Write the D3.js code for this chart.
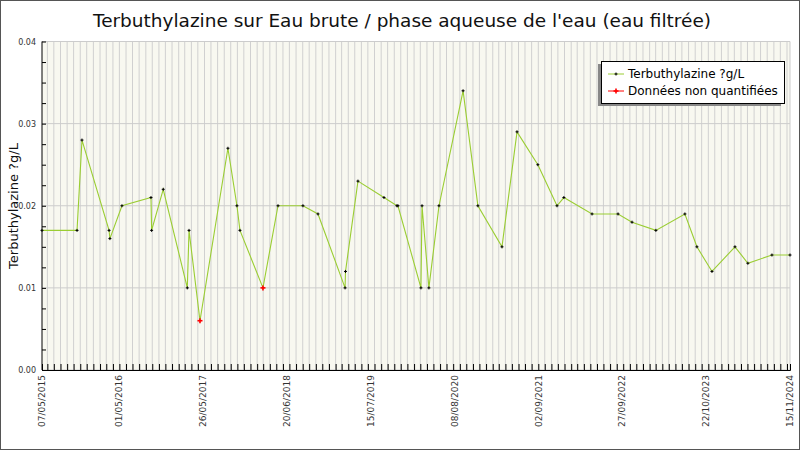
<!DOCTYPE html>
<html><head><meta charset="utf-8">
<script src="https://cdn.jsdelivr.net/npm/d3@7"></script>
<style>body{margin:0;background:#fff}svg{display:block}</style>
</head><body><svg id="c" width="800" height="450"></svg>
<script>
const dates = ["2015-05-07","2015-10-17","2015-11-09","2016-03-14","2016-03-18","2016-05-13","2016-09-25","2016-09-28","2016-11-21","2017-03-13","2017-03-21","2017-05-11","2017-09-18","2017-10-30","2017-11-13","2018-02-28","2018-05-09","2018-09-02","2018-11-11","2019-03-17","2019-03-19","2019-05-16","2019-09-14","2019-11-13","2019-11-18","2020-03-04","2020-03-09","2020-04-10","2020-05-27","2020-09-16","2020-11-24","2021-03-16","2021-05-25","2021-08-30","2021-11-27","2021-12-29","2022-05-09","2022-09-07","2022-11-11","2023-03-02","2023-07-15","2023-09-09","2023-11-18","2024-03-04","2024-05-03","2024-08-23","2024-11-15"];
const values = [0.017,0.017,0.028,0.017,0.016,0.020,0.021,0.017,0.022,0.010,0.017,0.006,0.027,0.020,0.017,0.010,0.020,0.020,0.019,0.010,0.012,0.023,0.021,0.020,0.020,0.010,0.020,0.010,0.020,0.034,0.020,0.015,0.029,0.025,0.020,0.021,0.019,0.019,0.018,0.017,0.019,0.015,0.012,0.015,0.013,0.014,0.014];
const nonQuant = ["2017-05-11","2018-02-28"];
const tickLabels = ["07/05/2015","01/05/2016","26/05/2017","20/06/2018","15/07/2019","08/08/2020","02/09/2021","27/09/2022","22/10/2023","15/11/2024"];
const yTicks = [0,0.01,0.02,0.03,0.04];

const svg = d3.select("#c");
const pf = d3.timeParse("%Y-%m-%d"), tf = d3.timeParse("%d/%m/%Y");
const L=42,R=790,T=41.5,B=370;
const x = d3.scaleTime().domain([tf(tickLabels[0]), tf(tickLabels[tickLabels.length-1])]).range([L,R]);
const y = d3.scaleLinear().domain([0,0.04]).range([B,T]);
const font="DejaVu Sans";

svg.append("rect").attr("x",0.5).attr("y",0.5).attr("width",799).attr("height",449).attr("fill","#fff").attr("stroke","#555");
svg.append("rect").attr("x",L).attr("y",T).attr("width",R-L).attr("height",B-T).attr("fill","#f8f8f0");

const months = d3.timeMonth.range(x.domain()[0], x.domain()[1]);
const g = svg.append("g");
g.selectAll(".vg").data(months).join("line").attr("x1",d=>x(d)).attr("x2",d=>x(d)).attr("y1",T).attr("y2",B).attr("stroke","#d0d0d0").attr("stroke-width",1);
g.selectAll(".hg").data(yTicks).join("line").attr("x1",L).attr("x2",R).attr("y1",d=>y(d)).attr("y2",d=>y(d)).attr("stroke","#ccc");
g.append("line").attr("x1",R).attr("x2",R).attr("y1",T).attr("y2",B).attr("stroke","#ccc");

const yAx = svg.append("g").attr("transform",`translate(${L},0)`).call(d3.axisLeft(y).tickValues(d3.range(0,0.04001,0.0025)).tickSize(4).tickFormat(""));
yAx.selectAll("line").attr("transform","translate(4,0)");
yAx.select(".domain").remove();
svg.append("line").attr("x1",L).attr("x2",L).attr("y1",T).attr("y2",B).attr("stroke","#000");
svg.selectAll(".yl").data(yTicks).join("text").attr("x",L-6).attr("y",d=>y(d)+3).attr("text-anchor","end").attr("font-family",font).attr("font-size",8).attr("fill","#333").text(d=>d.toFixed(2));

const xAx = svg.append("g").attr("transform",`translate(0,${B})`).call(d3.axisBottom(x).tickValues(months.concat([x.domain()[1]])).tickSize(-6).tickFormat(""));
xAx.select(".domain").attr("stroke","#000");
xAx.selectAll("line").attr("stroke","#000");
svg.selectAll(".xl").data(tickLabels).join("text").attr("transform",d=>`translate(${x(tf(d))+3},${B+5}) rotate(-90)`).attr("text-anchor","end").attr("font-family",font).attr("font-size",9).attr("fill","#333").text(d=>d);

const data = dates.map((d,i)=>({d:pf(d),v:values[i],nq:nonQuant.includes(d)}));
svg.append("path").datum(data).attr("fill","none").attr("stroke","#9acd32").attr("stroke-width",1.1).attr("d",d3.line().x(d=>x(d.d)).y(d=>y(d.v)));
const plus=(sel,s,c,w)=>{sel.append("line").attr("x1",-s).attr("x2",s).attr("stroke",c).attr("stroke-width",w);sel.append("line").attr("y1",-s).attr("y2",s).attr("stroke",c).attr("stroke-width",w);};
svg.selectAll(".pt").data(data).join("g").attr("transform",d=>`translate(${x(d.d)},${y(d.v)})`).each(function(d){plus(d3.select(this),d.nq?2.5:1.5,d.nq?"#f00":"#000",d.nq?1.6:1);});

svg.append("text").attr("x",402).attr("y",27).attr("text-anchor","middle").attr("font-family",font).attr("font-size",18.5).attr("textLength",618).attr("fill","#111").text("Terbuthylazine sur Eau brute / phase aqueuse de l'eau (eau filtrée)");
svg.append("text").attr("transform","translate(18,206) rotate(-90)").attr("text-anchor","middle").attr("font-family",font).attr("font-size",13).attr("fill","#111").text("Terbuthylazine ?g/L");

svg.append("rect").attr("x",598).attr("y",64).attr("width",183).attr("height",42).attr("fill","#888");
svg.append("rect").attr("x",601.5).attr("y",61.5).attr("width",183).attr("height",42).attr("fill","#fff").attr("stroke","#000");
svg.append("line").attr("x1",608).attr("x2",624).attr("y1",74).attr("y2",74).attr("stroke","#9acd32");
plus(svg.append("g").attr("transform","translate(616,74)"),1.5,"#000",1);
svg.append("line").attr("x1",608).attr("x2",624).attr("y1",91).attr("y2",91).attr("stroke","#f00");
plus(svg.append("g").attr("transform","translate(616,91)"),2.5,"#f00",1.6);
svg.append("text").attr("x",628).attr("y",78).attr("font-family",font).attr("font-size",12).text("Terbuthylazine ?g/L");
svg.append("text").attr("x",628).attr("y",95).attr("font-family",font).attr("font-size",12).text("Données non quantifiées");
</script></body></html>
